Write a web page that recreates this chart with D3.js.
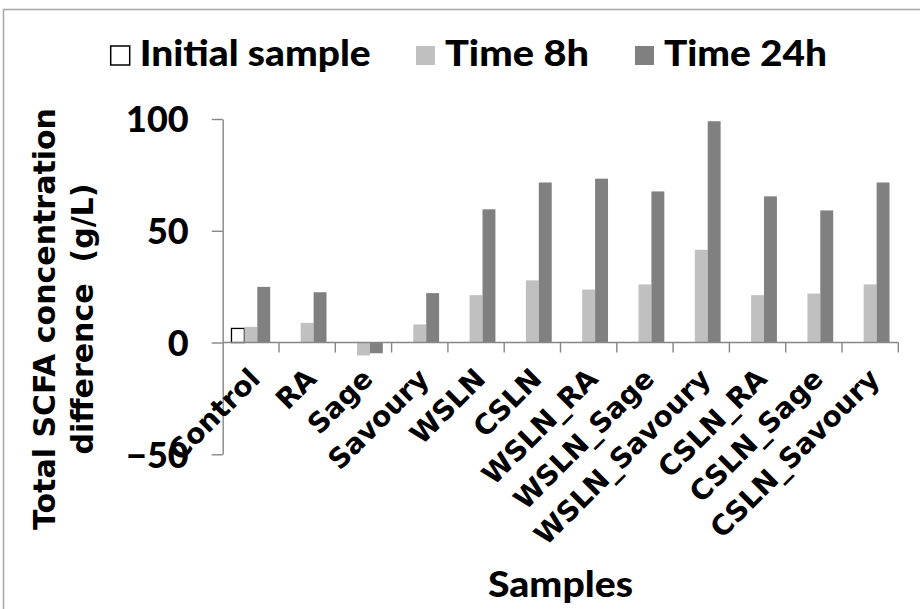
<!DOCTYPE html>
<html>
<head>
<meta charset="utf-8">
<script src="https://cdn.jsdelivr.net/npm/d3@7"></script>
<style>
  html, body { margin: 0; padding: 0; background: #fff; }
  svg { display: block; }
  .gs { font-family: Lato, "Open Sans", sans-serif; font-weight: 900; }
  .dv { font-family: "DejaVu Sans", Verdana, sans-serif; font-weight: 700; }
</style>
</head>
<body>
<svg id="chart" width="920" height="609"></svg>
<script>
// Samples on the category axis
const categories = ["Control", "RA", "Sage", "Savoury", "WSLN", "CSLN",
  "WSLN_RA", "WSLN_Sage", "WSLN_Savoury", "CSLN_RA", "CSLN_Sage", "CSLN_Savoury"];

// Total SCFA concentration difference (g/L) per sample
const initialSample = [6.3, 0, 0, 0, 0, 0, 0, 0, 0, 0, 0, 0];
const time8h  = [7.0, 8.8, -5.8, 8.1, 21.2, 27.8, 23.7, 26.0, 41.5, 21.2, 21.9, 26.0];
const time24h = [24.9, 22.5, -4.8, 22.1, 59.6, 71.6, 73.3, 67.6, 99.0, 65.4, 59.1, 71.6];

const seriesNames = ["Initial sample", "Time 8h", "Time 24h"];
const yTicks = [-50, 0, 50, 100];

const W = 920, H = 609;
const svg = d3.select("#chart");

svg.append("rect").attr("width", W).attr("height", H).attr("fill", "#fff");
// chart frame
svg.append("rect")
  .attr("x", 3.5).attr("y", 9.5).attr("width", 1000).attr("height", 800)
  .attr("fill", "none").attr("stroke", "#a6a6a6").attr("stroke-width", 1.5);

const plot = { left: 222.7, right: 898.3, top: 119, bottom: 454.3 };
const axisColor = "#868686";

const y = d3.scaleLinear().domain([-50, 100]).range([plot.bottom, plot.top]);
const x = d3.scaleBand().domain(categories).range([plot.left, plot.right])
  .paddingInner(0).paddingOuter(0);
const xs = d3.scaleBand().domain(seriesNames).range([0, x.bandwidth()])
  .paddingInner(0).paddingOuter(0.68);

const series = [
  { name: seriesNames[0], values: initialSample, fill: "#ffffff", stroke: "#000000", labelWidth: 231 },
  { name: seriesNames[1], values: time8h, fill: "#c0c0c0", stroke: "none", labelWidth: 144 },
  { name: seriesNames[2], values: time24h, fill: "#808080", stroke: "none", labelWidth: 163 }
];

// bars
const barsG = svg.append("g");
series.forEach(s => {
  barsG.append("g")
    .selectAll("rect")
    .data(s.values.map((v, i) => ({ cat: categories[i], v })).filter(d => d.v !== 0))
    .join("rect")
    .attr("x", d => x(d.cat) + xs(s.name))
    .attr("width", xs.bandwidth())
    .attr("y", d => y(Math.max(0, d.v)))
    .attr("height", d => Math.abs(y(d.v) - y(0)))
    .attr("fill", s.fill)
    .attr("stroke", s.stroke)
    .attr("stroke-width", s.stroke === "none" ? 0 : 1.3);
});

// y axis
const yAxis = svg.append("g")
  .attr("transform", `translate(${plot.left},0)`)
  .call(d3.axisLeft(y).tickValues(yTicks).tickSize(11).tickSizeOuter(0).tickPadding(23));
yAxis.attr("font-family", null).attr("font-size", null);
yAxis.select(".domain").attr("stroke", axisColor).attr("stroke-width", 1.4);
yAxis.selectAll(".tick line").attr("stroke", axisColor).attr("stroke-width", 1.4);
yAxis.selectAll(".tick text")
  .attr("class", "gs")
  .attr("font-size", 36)
  .attr("fill", "#000")
  .attr("dy", "0.36em");

// x axis line at zero with ticks on category boundaries
const xAxisG = svg.append("g").attr("transform", `translate(0,${y(0)})`);
xAxisG.append("line")
  .attr("x1", plot.left).attr("x2", plot.right)
  .attr("stroke", axisColor).attr("stroke-width", 1.4);
const boundaries = categories.slice(1).map(c => x(c)).concat([x(categories[categories.length - 1]) + x.bandwidth()]);
xAxisG.selectAll("line.bt")
  .data(boundaries)
  .join("line")
  .attr("class", "bt")
  .attr("x1", d => d).attr("x2", d => d)
  .attr("y1", 0).attr("y2", 10)
  .attr("stroke", axisColor).attr("stroke-width", 1.4);

// rotated category labels
svg.append("g")
  .selectAll("text")
  .data(categories)
  .join("text")
  .attr("class", "dv")
  .attr("font-size", 28)
  .attr("text-anchor", "end")
  .attr("dy", "0.35em")
  .attr("transform", d => `translate(${x(d) + x.bandwidth() / 2 + 4},${y(0) + 31}) rotate(-45)`)
  .text(d => d);

// y axis title (two lines)
const yTitle = ["Total SCFA concentration", "difference\u00a0\u00a0(g/L)"];
svg.append("g")
  .selectAll("text")
  .data(yTitle)
  .join("text")
  .attr("class", "dv")
  .attr("font-size", 30)
  .attr("text-anchor", "middle")
  .attr("transform", (d, i) => `translate(${55 + i * 38},319) rotate(-90)`)
  .text(d => d);

// x axis title
svg.append("text")
  .attr("class", "gs")
  .attr("font-size", 36)
  .attr("text-anchor", "middle")
  .attr("x", (plot.left + plot.right) / 2)
  .attr("y", 597)
  .attr("textLength", 145)
  .attr("lengthAdjust", "spacingAndGlyphs")
  .text("Samples");

// legend
const legendX = [110.7, 416, 635];
const legend = svg.append("g");
series.forEach((s, i) => {
  legend.append("rect")
    .attr("x", legendX[i]).attr("y", 46)
    .attr("width", 19).attr("height", 19)
    .attr("fill", s.fill)
    .attr("stroke", s.stroke === "none" ? "none" : "#000")
    .attr("stroke-width", 1.5);
  legend.append("text")
    .attr("class", "gs")
    .attr("font-size", 36)
    .attr("x", legendX[i] + 29)
    .attr("y", 66)
    .attr("textLength", s.labelWidth)
    .attr("lengthAdjust", "spacingAndGlyphs")
    .text(s.name);
});
</script>
</body>
</html>
